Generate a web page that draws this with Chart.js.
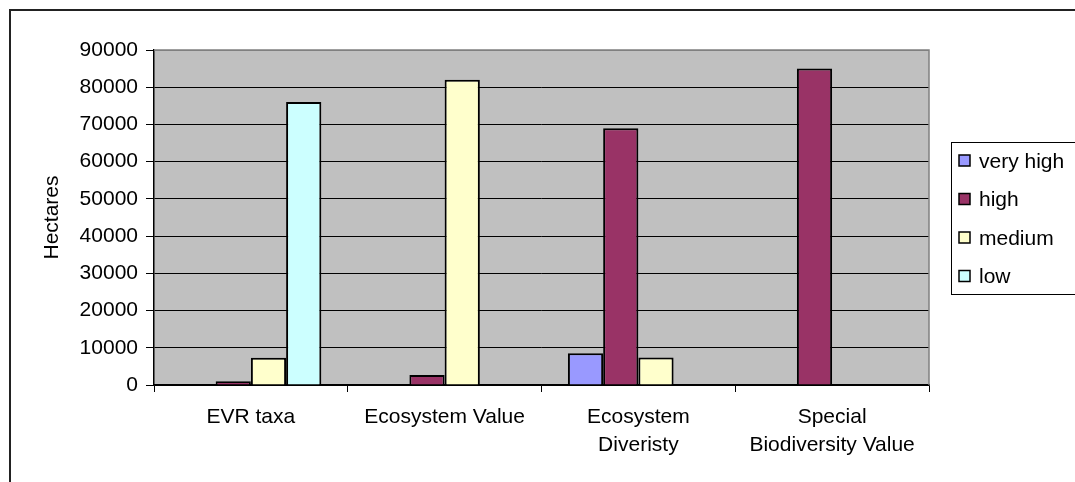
<!DOCTYPE html>
<html>
<head>
<meta charset="utf-8">
<script src="https://cdn.jsdelivr.net/npm/chart.js@4/dist/chart.umd.min.js"></script>
<style>
  html, body { margin: 0; padding: 0; background: #fff; }
  canvas { display: block; }
</style>
</head>
<body>
<canvas id="chart" width="1075" height="482"></canvas>
<script>
const categories = [
  'EVR taxa',
  'Ecosystem Value',
  ['Ecosystem', 'Diveristy'],
  ['Special', 'Biodiversity Value'],
];
const seriesNames = ['very high', 'high', 'medium', 'low'];
const veryHigh = [null, null, 8500, null];
const high = [1000, 2700, 69000, 85000];
const medium = [7300, 82000, 7400, null];
const low = [76000, null, null, null];
const yTicks = [0, 10000, 20000, 30000, 40000, 50000, 60000, 70000, 80000, 90000];

const colors = ['#9999FF', '#993366', '#FFFFCC', '#CCFFFF'];
const FONT = "'Liberation Sans', Arial, sans-serif";

// grey plot area, its grey frame and the outer chart border
const frame = {
  id: 'frame',
  beforeDraw(chart) {
    const { ctx, chartArea: a } = chart;
    ctx.save();
    ctx.fillStyle = '#C0C0C0';
    ctx.fillRect(a.left, a.top, a.right - a.left, a.bottom - a.top);
    ctx.strokeStyle = '#222';
    ctx.lineWidth = 2;
    ctx.strokeRect(10, 10, 1200, 600);
    ctx.restore();
  },
  beforeDatasetsDraw(chart) {
    const { ctx, chartArea: a } = chart;
    ctx.save();
    ctx.strokeStyle = '#808080';
    ctx.lineWidth = 1.5;
    ctx.beginPath();
    ctx.moveTo(a.left, a.top);
    ctx.lineTo(a.right, a.top);
    ctx.lineTo(a.right, a.bottom);
    ctx.stroke();
    ctx.restore();
  },
};

// boxed legend on the right
const boxLegend = {
  id: 'boxLegend',
  afterDraw(chart) {
    const { ctx } = chart;
    const x = 951, y = 142, w = 140, h = 152;
    ctx.save();
    ctx.strokeStyle = '#000';
    ctx.lineWidth = 1;
    ctx.strokeRect(x + 0.5, y + 0.5, w, h);
    ctx.font = '21px ' + FONT;
    ctx.textBaseline = 'middle';
    chart.data.datasets.forEach((ds, i) => {
      const cy = 161 + i * 38.5;
      ctx.fillStyle = ds.backgroundColor;
      ctx.fillRect(959, cy - 6, 11, 11);
      ctx.lineWidth = 1.5;
      ctx.strokeRect(959, cy - 6, 11, 11);
      ctx.fillStyle = '#000';
      ctx.fillText(ds.label, 979, cy + 1);
    });
    ctx.restore();
  },
};

const seriesValues = [veryHigh, high, medium, low];

new Chart(document.getElementById('chart'), {
  type: 'bar',
  data: {
    labels: categories,
    datasets: seriesNames.map((name, i) => ({
      label: name,
      data: seriesValues[i],
      backgroundColor: colors[i],
      borderColor: '#000',
      borderWidth: 2,
      borderSkipped: 'bottom',
      categoryPercentage: 4 / 5.5,
      barPercentage: 1,
    })),
  },
  options: {
    responsive: false,
    animation: false,
    layout: { padding: { left: 0, top: 50, right: 146, bottom: 0 } },
    plugins: {
      legend: { display: false },
      tooltip: { enabled: false },
    },
    scales: {
      x: {
        afterFit(scale) { scale.height = 97; },
        border: { color: '#000', width: 1.5 },
        grid: {
          offset: true,
          drawOnChartArea: false,
          tickLength: 7,
          color: '#000',
        },
        ticks: {
          color: '#000',
          padding: 11,
          maxRotation: 0,
          autoSkip: false,
          font: { family: FONT, size: 21, lineHeight: 1.35 },
        },
      },
      y: {
        min: 0,
        max: 90000,
        afterFit(scale) { scale.width = 154; },
        afterBuildTicks(scale) { scale.ticks = yTicks.map((v) => ({ value: v })); },
        border: { color: '#000', width: 1.5 },
        grid: {
          color: (c) => (c.tick && c.tick.value === 90000 ? '#808080' : '#000'),
          tickColor: '#000',
          tickLength: 8,
          lineWidth: 1,
        },
        ticks: {
          color: '#000',
          padding: 8,
          font: { family: FONT, size: 21 },
          callback: (value) => String(value),
        },
        title: {
          display: true,
          text: 'Hectares',
          color: '#000',
          padding: { top: 40, bottom: 0 },
          font: { family: FONT, size: 21 },
        },
      },
    },
  },
  plugins: [frame, boxLegend],
});
</script>
</body>
</html>
